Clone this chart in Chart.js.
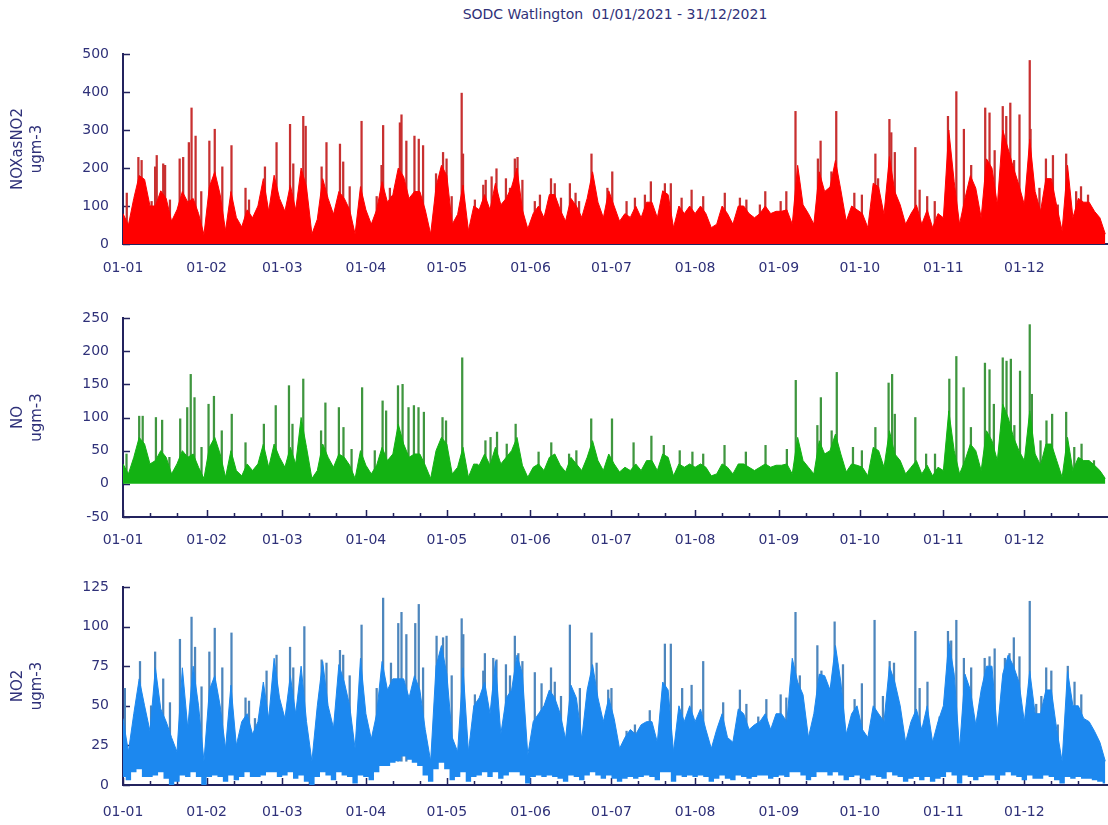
<!DOCTYPE html>
<html>
<head>
<meta charset="utf-8">
<script src="https://cdn.jsdelivr.net/npm/chart.js@4/dist/chart.umd.min.js"></script>
<style>
  html, body { margin: 0; padding: 0; background: #fff; }
  #wrap { position: relative; width: 1108px; height: 825px; overflow: hidden; }
  .panel { position: absolute; left: 0; }
  #title {
    position: absolute; top: 6px; left: 315px; width: 600px; text-align: center;
    font: 14px "DejaVu Sans", sans-serif; color: #2f3179; white-space: pre;
  }
</style>
</head>
<body>
<div id="wrap">
  <div id="title">SODC Watlington  01/01/2021 - 31/12/2021</div>
  <canvas class="panel" id="noxChart" width="1108" height="290" style="top:0"></canvas>
  <canvas class="panel" id="noChart" width="1108" height="265" style="top:290px"></canvas>
  <canvas class="panel" id="no2Chart" width="1108" height="270" style="top:555px"></canvas>
</div>
<script>
// day-of-year of each month start, and its label
const monthStarts = [0, 31, 59, 90, 120, 151, 181, 212, 243, 273, 304, 334];
const monthLabels = ["01-01", "01-02", "01-03", "01-04", "01-05", "01-06",
  "01-07", "01-08", "01-09", "01-10", "01-11", "01-12"];

// bulk level of each series, one reading every 2 days (day 0, 2, ... 364)
const noxLevel = [
  80, 50, 120, 180, 170, 100, 100, 140, 120, 60,
  90, 138, 110, 120, 80, 25, 150, 190, 130, 35,
  138, 70, 45, 90, 69, 100, 172, 86, 181, 120,
  86, 155, 90, 200, 150, 26, 65, 172, 120, 78,
  138, 120, 90, 26, 151, 90, 52, 90, 164, 110,
  130, 200, 177, 120, 138, 138, 90, 26, 150, 207,
  180, 52, 78, 155, 35, 100, 90, 130, 90, 160,
  103, 120, 150, 200, 90, 40, 80, 100, 69, 130,
  130, 90, 60, 120, 100, 70, 120, 190, 110, 69,
  140, 100, 60, 80, 70, 100, 69, 110, 110, 69,
  140, 130, 43, 100, 80, 100, 80, 100, 80, 43,
  52, 100, 80, 52, 100, 100, 80, 69, 80, 100,
  80, 86, 86, 90, 52, 207, 103, 80, 52, 190,
  138, 150, 220, 142, 60, 100, 90, 80, 43, 160,
  150, 78, 230, 138, 103, 52, 80, 103, 52, 90,
  43, 80, 69, 300, 164, 52, 120, 180, 147, 69,
  224, 200, 103, 300, 250, 200, 155, 103, 276, 138,
  86, 172, 172, 100, 35, 207, 69, 120, 110, 110,
  86, 69, 26
];
const noLevel = [
  30, 15, 40, 70, 60, 30, 35, 50, 40, 15,
  30, 50, 40, 45, 25, 8, 55, 70, 45, 10,
  50, 20, 12, 30, 20, 30, 60, 25, 60, 40,
  25, 55, 30, 100, 55, 8, 20, 60, 40, 25,
  45, 40, 28, 8, 50, 28, 15, 28, 55, 35,
  45, 90, 60, 40, 45, 45, 28, 8, 50, 70,
  60, 15, 25, 55, 10, 30, 28, 45, 28, 55,
  30, 40, 50, 70, 28, 10, 25, 30, 20, 40,
  45, 28, 18, 40, 30, 20, 40, 65, 35, 20,
  45, 30, 18, 25, 20, 30, 20, 35, 35, 20,
  45, 40, 12, 30, 25, 30, 25, 30, 25, 12,
  15, 30, 25, 15, 30, 30, 25, 20, 25, 30,
  25, 28, 28, 30, 15, 70, 35, 25, 15, 65,
  45, 50, 75, 45, 18, 30, 28, 25, 12, 55,
  50, 25, 80, 45, 35, 15, 25, 35, 15, 28,
  12, 25, 20, 110, 50, 15, 35, 60, 50, 20,
  80, 65, 35, 120, 100, 70, 50, 35, 110, 45,
  28, 60, 60, 35, 10, 70, 20, 40, 35, 35,
  28, 20, 8
];
const no2Level = [
  42, 21, 45, 67, 50, 34, 74, 48, 40, 30,
  21, 74, 36, 75, 50, 15, 60, 69, 50, 23,
  63, 25, 40, 45, 32, 40, 65, 42, 80, 55,
  42, 69, 45, 75, 40, 15, 50, 78, 50, 36,
  76, 65, 50, 23, 80, 45, 29, 45, 78, 60,
  67, 67, 67, 55, 69, 60, 35, 15, 75, 88,
  70, 30, 21, 74, 21, 50, 55, 65, 45, 78,
  32, 55, 60, 82, 70, 19, 40, 45, 50, 60,
  55, 45, 29, 63, 55, 29, 60, 76, 55, 40,
  55, 42, 23, 30, 35, 32, 38, 40, 40, 27,
  65, 60, 21, 50, 40, 50, 40, 48, 35, 23,
  35, 45, 30, 27, 48, 45, 35, 38, 40, 45,
  35, 45, 45, 40, 80, 65, 57, 30, 45, 70,
  69, 60, 88, 65, 32, 45, 50, 35, 30, 50,
  45, 40, 75, 65, 50, 27, 40, 48, 35, 50,
  27, 40, 50, 91, 70, 23, 70, 60, 38, 60,
  75, 75, 34, 70, 82, 75, 65, 40, 72, 45,
  45, 60, 60, 35, 15, 72, 50, 50, 42, 40,
  34, 27, 15
];
// lowest NO2 reading in each 2-day step (white gaps under the blue band)
const no2Low = [
  5, 3, 8, 10, 5, 5, 6, 8, 4, 0,
  2, 6, 5, 8, 5, 0, 5, 6, 5, 2,
  6, 3, 5, 8, 5, 5, 6, 8, 8, 5,
  6, 8, 4, 6, 2, 0, 5, 8, 6, 3,
  8, 6, 5, 1, 6, 5, 3, 8, 12, 12,
  14, 15, 18, 16, 14, 12, 6, 2, 10, 14,
  10, 3, 5, 8, 2, 5, 6, 8, 5, 8,
  4, 6, 8, 8, 6, 1, 5, 6, 5, 6,
  5, 4, 2, 6, 5, 3, 6, 8, 6, 4,
  6, 4, 2, 4, 5, 4, 5, 6, 5, 3,
  8, 8, 2, 6, 5, 6, 5, 6, 5, 2,
  4, 6, 4, 3, 6, 5, 4, 5, 6, 6,
  4, 5, 6, 5, 8, 8, 6, 3, 5, 8,
  8, 6, 8, 6, 3, 5, 6, 4, 3, 6,
  5, 4, 8, 6, 5, 2, 4, 5, 3, 5,
  2, 4, 5, 8, 6, 1, 6, 5, 3, 5,
  6, 6, 3, 6, 8, 6, 5, 3, 6, 4,
  4, 6, 5, 3, 1, 5, 4, 5, 4, 4,
  3, 2, 1
];

// short hourly peaks standing above the bulk: day of year and value
const noxSpikeDays = [
  1.4, 5.7, 6.9, 10.6, 11.9, 12.5, 14.9, 15.6, 17.4, 21,
  22.3, 24.4, 25.4, 26.9, 29, 32, 34, 36.8, 40.2, 45.4,
  46.7, 52.6, 56.9, 61.9, 63.1, 66.8, 67.7, 73.6, 75.4, 80.4,
  81.6, 84, 88.4, 94, 95.8, 96.4, 98.9, 102.6, 103.2, 105,
  108, 109.6, 111.2, 116, 118.6, 119.9, 121.8, 125.5, 126, 130.4,
  133.5, 134.4, 136.6, 138.4, 141.9, 143.4, 145.2, 146.2, 148, 152.6,
  154.5, 158.6, 160, 162.3, 165.6, 167.7, 169, 173.6, 179.5, 181.3,
  186.6, 189.7, 193.4, 195.6, 200.8, 203, 207, 210.7, 215, 223,
  228.6, 231, 236, 238, 243.7, 245.8, 249.2, 257.5, 258.5, 262.5,
  264.3, 271, 273.8, 278.8, 279.8, 284, 284.7, 286, 293.6, 295.2,
  298, 300.8, 305.7, 308.8, 311.6, 314.3, 319.5, 321.1, 323, 326,
  327.3, 328.8, 330.2, 332.2, 336, 336.3, 339.6, 342, 344.6, 346.4,
  349.5, 353.2, 355, 357.6
];
const noxSpikeValues = [
  134, 228, 220, 112, 203, 233, 211, 207, 116, 224,
  228, 267, 358, 284, 138, 271, 302, 203, 259, 147,
  116, 203, 267, 315, 211, 336, 310, 203, 267, 263,
  216, 151, 323, 125, 207, 312, 147, 319, 340, 271,
  284, 276, 259, 185, 241, 224, 125, 397, 237, 116,
  155, 168, 177, 198, 172, 147, 224, 228, 168, 112,
  129, 172, 159, 121, 159, 134, 112, 237, 147, 190,
  112, 121, 129, 164, 159, 159, 121, 142, 125, 134,
  121, 116, 103, 138, 112, 138, 349, 224, 271, 190,
  349, 134, 129, 237, 172, 328, 293, 241, 254, 142,
  125, 112, 336, 401, 302, 207, 358, 345, 246, 362,
  336, 371, 220, 340, 483, 302, 147, 224, 233, 103,
  237, 138, 151, 129
];
const noSpikeDays = [
  1.3, 6, 7.3, 12.2, 14.5, 17.2, 21.2, 23.8, 25.1, 26.5,
  29.1, 31.7, 33.7, 36.6, 40.3, 45.4, 52.2, 56.6, 61.5, 62.8,
  66.8, 73.4, 75, 80, 81.7, 84.7, 88.6, 93.3, 96.2, 97.5,
  101.9, 103.6, 105.8, 107.8, 109.5, 111.5, 118.4, 119.7, 125.7, 131,
  134.3, 136.2, 138.6, 142.2, 145.5, 154, 158.7, 165.3, 168, 173.5,
  181.2, 189.2, 195.8, 200.4, 206.3, 211, 215, 222.9, 230.8, 238.1,
  246, 249.3, 257.3, 258.6, 262.6, 264.5, 270.5, 273.8, 278.8, 283.7,
  285, 286, 293.6, 297.6, 300.9, 306.2, 308.8, 311.5, 314.2, 319.4,
  321.1, 322.7, 326, 327.4, 329, 330.3, 332.4, 336, 336.8, 340,
  342.2, 344.3, 349.5, 352.5, 355.2, 359.8
];
const noSpikeValues = [
  45, 102, 102, 100, 96, 40, 98, 115, 165, 130,
  55, 120, 132, 80, 105, 62, 90, 118, 148, 90,
  158, 80, 122, 115, 85, 52, 145, 50, 125, 110,
  148, 150, 115, 118, 115, 108, 100, 95, 190, 30,
  65, 70, 78, 60, 90, 48, 62, 45, 50, 98,
  98, 62, 72, 58, 50, 48, 45, 58, 48, 58,
  52, 156, 88, 130, 80, 168, 55, 50, 85, 152,
  165, 105, 100, 45, 45, 158, 192, 145, 85, 182,
  172, 120, 190, 185, 188, 88, 170, 240, 135, 65,
  95, 105, 108, 55, 60, 35
];
const no2SpikeDays = [
  0.7, 6.3, 10.4, 11.9, 14.9, 17.4, 21.1, 25.4, 26.7, 29.1,
  32, 34, 36.8, 40.2, 45.4, 46.7, 48.9, 53.2, 56.9, 61.9,
  63.1, 67.2, 73.6, 75.4, 80.4, 81.6, 84, 88.4, 94, 96.4,
  99.3, 102, 103.2, 105, 108.3, 109.6, 111.2, 116.2, 118.6, 119.9,
  121.8, 125.5, 126.1, 130.4, 133.5, 134.1, 137.2, 138.4, 141.9, 143.4,
  145.2, 146.5, 148, 152.6, 155.1, 158.6, 160, 162.3, 165.6, 169.3,
  173.6, 175.5, 179.8, 181, 186.6, 189.7, 195.2, 200.8, 203, 207.2,
  210.7, 215, 222.4, 228.6, 231, 235.4, 238.4, 243.7, 245.8, 249.2,
  250.8, 257.3, 258.8, 262.5, 263.7, 266.8, 271.1, 273.8, 278.5, 281.6,
  284.1, 285.7, 293.6, 295.2, 298.1, 302.6, 305.7, 306.9, 308.8, 311.6,
  314.3, 319.3, 321.1, 323, 326.8, 328.5, 330.1, 332.2, 336, 338.4,
  340.3, 342.1, 344, 346.4, 350.1, 352.6, 355.1
];
const no2SpikeValues = [
  61, 78, 50, 84, 67, 52, 92, 106, 87, 62,
  84, 99, 74, 96, 55, 53, 42, 72, 82, 87,
  74, 100, 79, 77, 85, 82, 69, 101, 61, 118,
  77, 102, 109, 95, 102, 114, 74, 94, 93, 94,
  69, 105, 95, 57, 72, 83, 80, 79, 76, 69,
  94, 83, 78, 71, 64, 74, 65, 56, 101, 61,
  96, 77, 60, 61, 34, 38, 47, 89, 89, 61,
  63, 78, 52, 60, 51, 43, 54, 57, 55, 109,
  69, 88, 72, 63, 103, 76, 54, 64, 104, 56,
  78, 77, 97, 61, 65, 43, 97, 91, 104, 80,
  74, 80, 81, 86, 80, 83, 93, 81, 116, 51,
  56, 74, 72, 38, 75, 65, 57
];

const textColor = "#2f3179";
const axisColor = "#23235e";
Chart.defaults.font.family = "'DejaVu Sans', sans-serif";
Chart.defaults.color = textColor;

const levelDays = noxLevel.map((v, i) => i * 2);
const pts = (xs, ys) => xs.map((x, i) => ({ x: x, y: ys[i] }));

// tick marks point into the plot, as in the original
const insideTicks = {
  id: "insideTicks",
  beforeDatasetsDraw(chart) {
    const { ctx, chartArea, scales } = chart;
    ctx.save();
    ctx.strokeStyle = axisColor;
    ctx.lineWidth = 1.5;
    ctx.beginPath();
    scales.y.ticks.forEach((t) => {
      const py = Math.round(scales.y.getPixelForValue(t.value)) + 0.5;
      ctx.moveTo(chartArea.left, py);
      ctx.lineTo(chartArea.left + 7, py);
    });
    monthStarts.forEach((m) => {
      [0, 10, 20].forEach((off, k) => {
        const px = Math.round(scales.x.getPixelForValue(m + off)) + 0.5;
        ctx.moveTo(px, chartArea.bottom);
        ctx.lineTo(px, chartArea.bottom - (k === 0 ? 7 : 4));
      });
    });
    ctx.stroke();
    ctx.restore();
  },
};

function makeChart(id, cfg) {
  const datasets = [];
  if (cfg.low) {
    datasets.push({
      type: "line",
      data: pts(levelDays, cfg.low),
      borderWidth: 0,
      pointRadius: 0,
      stepped: "middle",
      fill: false,
      order: 2,
    });
  }
  datasets.push({
    type: "line",
    data: pts(levelDays, cfg.level),
    borderColor: cfg.color,
    backgroundColor: cfg.color,
    borderWidth: 1,
    pointRadius: 0,
    tension: 0,
    fill: cfg.low ? "-1" : "origin",
    order: 0,
  });
  datasets.push({
    type: "bar",
    data: pts(cfg.spikeDays, cfg.spikeValues),
    backgroundColor: cfg.spikeColor,
    barThickness: 1.6,
    base: cfg.spikeBase,
    order: 1,
  });

  return new Chart(document.getElementById(id), {
    type: "line",
    data: { datasets: datasets },
    options: {
      responsive: false,
      animation: false,
      events: [],
      layout: { padding: { top: cfg.top, left: 0, right: 0, bottom: 0 } },
      plugins: { legend: { display: false }, tooltip: { enabled: false } },
      scales: {
        x: {
          type: "linear",
          min: 0,
          max: 365,
          offset: false,
          grid: { display: false, drawTicks: false },
          border: { display: true, color: axisColor, width: 2 },
          afterBuildTicks: (scale) => {
            scale.ticks = monthStarts.map((v) => ({ value: v }));
          },
          afterFit: (scale) => {
            scale.height = cfg.xHeight;
          },
          ticks: {
            autoSkip: false,
            maxRotation: 0,
            padding: cfg.xPad,
            font: { size: 14 },
            callback: (v) => monthLabels[monthStarts.indexOf(v)],
          },
        },
        y: {
          min: cfg.yMin,
          max: cfg.yMax,
          grid: { display: false, drawTicks: false },
          border: { display: true, color: axisColor, width: 2 },
          afterFit: (scale) => {
            scale.width = 123;
          },
          ticks: { stepSize: cfg.yStep, padding: 14, font: { size: 14 } },
          title: {
            display: true,
            text: cfg.yTitle,
            font: { size: 15, lineHeight: 1.25 },
            padding: { top: 9, bottom: 0 },
          },
        },
      },
    },
    plugins: [insideTicks],
  });
}

makeChart("noxChart", {
  level: noxLevel,
  spikeDays: noxSpikeDays,
  spikeValues: noxSpikeValues,
  color: "#ff0000",
  spikeColor: "#c83030",
  spikeBase: 20,
  yMin: 0, yMax: 500, yStep: 100,
  yTitle: ["NOXasNO2", "ugm-3"],
  top: 54, xHeight: 46, xPad: 16,
});
makeChart("noChart", {
  level: noLevel,
  spikeDays: noSpikeDays,
  spikeValues: noSpikeValues,
  color: "#13b213",
  spikeColor: "#3f963f",
  spikeBase: 10,
  yMin: -50, yMax: 250, yStep: 50,
  yTitle: ["NO", "ugm-3"],
  top: 28, xHeight: 38, xPad: 15,
});
makeChart("no2Chart", {
  level: no2Level,
  low: no2Low,
  spikeDays: no2SpikeDays,
  spikeValues: no2SpikeValues,
  color: "#1c88ef",
  spikeColor: "#4d86bd",
  spikeBase: 15,
  yMin: 0, yMax: 125, yStep: 25,
  yTitle: ["NO2", "ugm-3"],
  top: 32, xHeight: 40, xPad: 19,
});
</script>
</body>
</html>
